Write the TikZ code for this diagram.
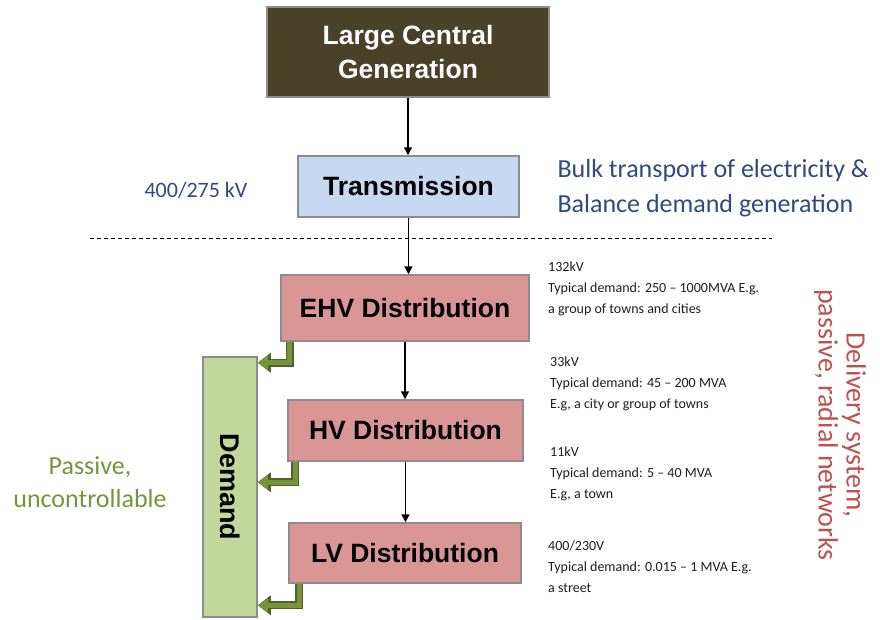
\documentclass[tikz,border=0pt]{standalone}
\usepackage{fontspec}
\setmainfont{Carlito}
\newfontfamily\boxfont{Liberation Sans}
\usetikzlibrary{arrows.meta}
\definecolor{genfill}{RGB}{73,66,41}
\definecolor{transfill}{RGB}{198,217,241}
\definecolor{distfill}{RGB}{217,150,148}
\definecolor{demfill}{RGB}{195,214,155}
\definecolor{boxline}{RGB}{140,140,140}
\definecolor{bluetxt}{RGB}{47,74,125}
\definecolor{redtxt}{RGB}{192,80,77}
\definecolor{greentxt}{RGB}{119,147,60}
\definecolor{arrlight}{RGB}{119,147,60}
\definecolor{arrdark}{RGB}{79,98,40}
\definecolor{infotxt}{RGB}{30,30,30}
\tikzset{
  blk/.style={draw=boxline,line width=1.5pt,align=center,inner sep=0pt,
    font=\boxfont\bfseries\fontsize{26.5}{34}\selectfont},
  arr/.style={line width=1.5pt,-{Triangle[length=8pt,width=8pt]}},
  dmd/.style={line width=5pt,draw=arrlight,-{Triangle[length=10pt,width=14pt]},
    preaction={draw=arrdark,line width=8pt,-{Triangle[length=13pt,width=19pt]}}},
  info/.style={anchor=north west,align=left,inner sep=0pt,text=infotxt,
    font=\fontsize{14}{21}\selectfont}
}

\begin{document}
\begin{tikzpicture}[x=1pt,y=-1pt]
  \useasboundingbox (0,0) rectangle (880,619);

  % chain of boxes
  \node[blk,fill=genfill,text=white,minimum width=282pt,minimum height=90pt] (gen) at (408,52) {Large Central\\Generation};
  \node[blk,fill=transfill,minimum width=221pt,minimum height=61pt] (trans) at (408.5,186.5) {Transmission};
  \node[blk,fill=distfill,minimum width=248pt,minimum height=66pt] (ehv) at (405,308) {EHV Distribution};
  \node[blk,fill=distfill,minimum width=235pt,minimum height=61pt] (hv) at (405.5,430.5) {HV Distribution};
  \node[blk,fill=distfill,minimum width=232pt,minimum height=60pt] (lv) at (405,553) {LV Distribution};
  \node[blk,fill=demfill,rotate=-90,minimum width=260pt,minimum height=54pt,
        font=\boxfont\bfseries\fontsize{27}{30}\selectfont] (dem) at (230,487) {Demand};

  \foreach \u/\v in {gen/trans,trans/ehv,ehv/hv,hv/lv}{
    \draw[arr] (\u.south) -- (\u.south |- \v.north);
  }

  % demand arrows (dem is turned, so its north west is the top right corner)
  \foreach \b/\dx/\dy in {ehv/9.5/6.5,hv/8/126,lv/11/249}{
    \draw[dmd] ([xshift=\dx pt]\b.south west) |- ([yshift=-\dy pt]dem.north west);
  }

  \draw[line width=1pt,dash pattern=on 4pt off 3pt] (90,238) -- (772,238);

  % side texts
  \node[text=bluetxt,font=\fontsize{22}{26}\selectfont] (kv) at (196,190) {400/275 kV};
  \node[anchor=west,align=left,text=bluetxt,font=\fontsize{26}{35}\selectfont] (bulk) at (554,188)
    {Bulk transport of electricity \&\\Balance demand generation};
  \node[align=center,text=greentxt,font=\fontsize{26}{33}\selectfont] (pas) at (90,482) {Passive,\\uncontrollable};
  \node[rotate=-90,align=center,text=redtxt,font=\fontsize{28}{28}\selectfont] (dlv) at (840,425)
    {Delivery system,\\passive, radial networks};

  \node[info] (i1) at (548,262) {132kV\\Typical demand: 250 -- 1000MVA E.g.\\a group of towns and cities};
  \node[info] (i2) at (550,357) {33kV\\Typical demand: 45 -- 200 MVA\\E.g, a city or group of towns};
  \node[info] (i3) at (550,447) {11kV\\Typical demand: 5 -- 40 MVA\\E.g, a town};
  \node[info] (i4) at (548,541) {400/230V\\Typical demand: 0.015 -- 1 MVA E.g.\\a street};
\end{tikzpicture}
\end{document}
